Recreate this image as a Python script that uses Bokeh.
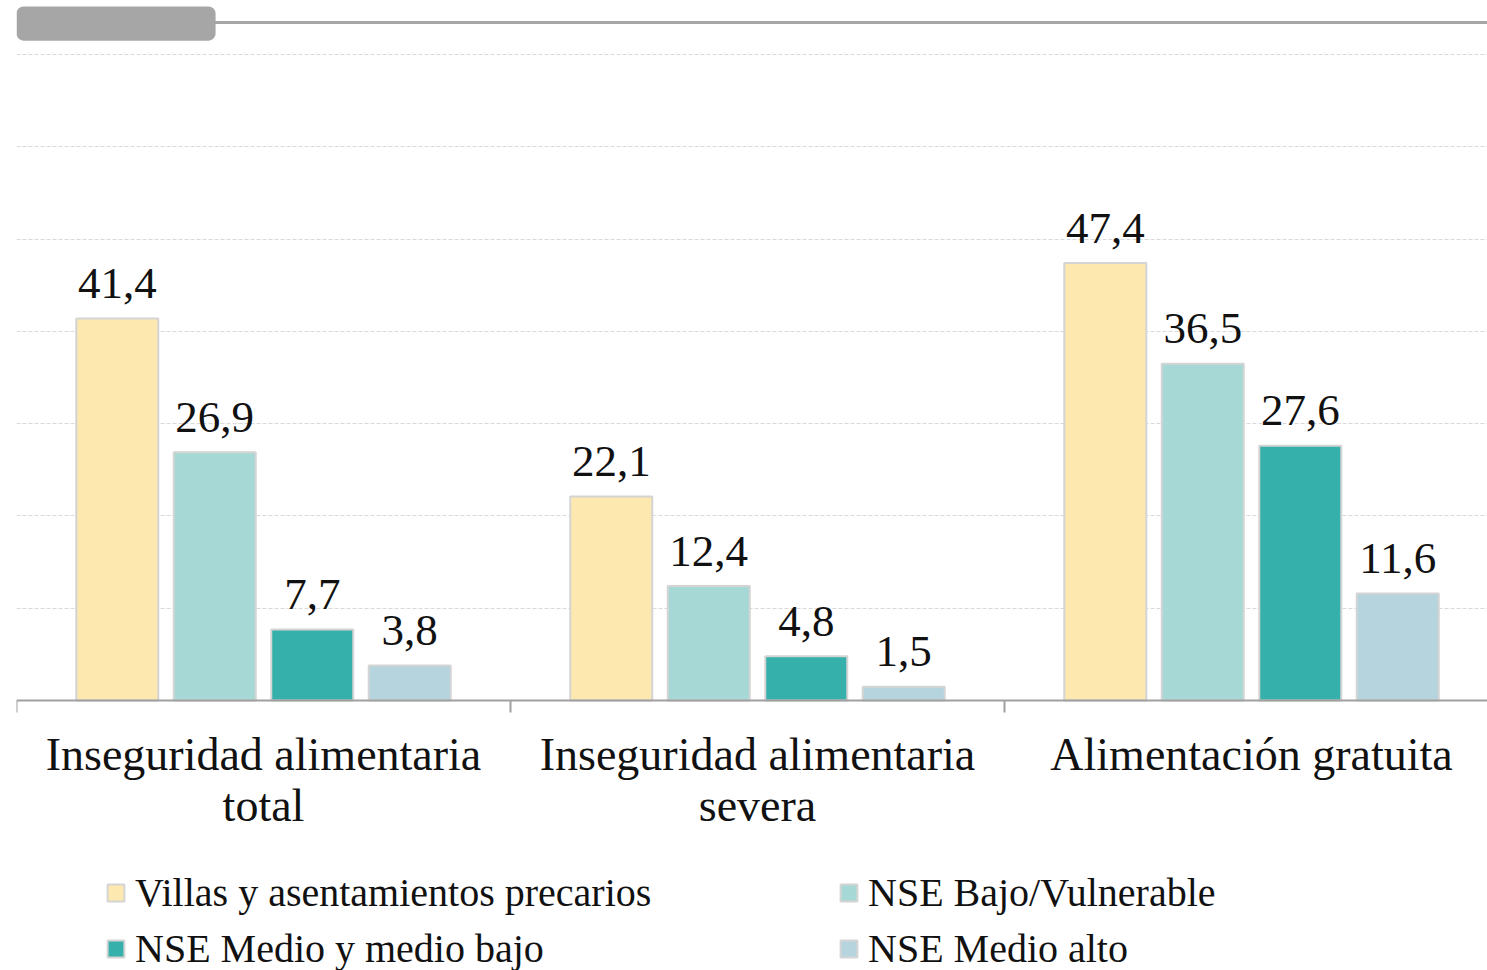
from bokeh.plotting import figure
from bokeh.models import (ColumnDataSource, Range1d, FixedTicker, Legend, LegendItem,
                          BoxAnnotation, LinearAxis)
from bokeh.core.properties import value
from bokeh.embed import file_html
from bokeh.resources import INLINE

categories = ["Inseguridad alimentaria\ntotal", "Inseguridad alimentaria\nsevera", "Alimentación gratuita"]
series = ["Villas y asentamientos precarios", "NSE Bajo/Vulnerable",
          "NSE Medio y medio bajo", "NSE Medio alto"]
villas = [41.4, 22.1, 47.4]
bajo = [26.9, 12.4, 36.5]
medio = [7.7, 4.8, 27.6]
medio_alto = [3.8, 1.5, 11.6]
values_by_series = [villas, bajo, medio, medio_alto]
y_ticks = [10, 20, 30, 40, 50, 60, 70]

colors = ["#FDE9B0", "#A6D9D6", "#36B0AB", "#B6D4DE"]
offsets = [-0.296, -0.0987, 0.0987, 0.296]
FONT = "Liberation Serif"
XEND = 2.9777
YEND = 75.85
YMIN = -29.26

W, H = 1487, 970
p = figure(width=W, height=H, output_backend="svg", toolbar_location=None,
           x_range=Range1d(0, XEND), y_range=Range1d(YMIN, YEND),
           min_border_left=16, min_border_right=0, min_border_top=0, min_border_bottom=0)
p.outline_line_color = None
p.yaxis.visible = False
p.xaxis.visible = False
p.xgrid.visible = False
p.ygrid.ticker = FixedTicker(ticks=y_ticks)
p.ygrid.grid_line_color = "#D9D9D9"
p.ygrid.grid_line_dash = "4 2"
p.ygrid.grid_line_width = 1

# header decoration
p.segment(x0=0.4, x1=XEND, y0=73.46, y1=73.46, line_color="#A6A6A6", line_width=3)
p.add_layout(BoxAnnotation(left=0, right=0.403, bottom=71.5, top=75.2, fill_color="#A6A6A6",
                           fill_alpha=1, line_color=None, border_radius=7))

renderers = []
for i, (name, vals) in enumerate(zip(series, values_by_series)):
    xs = [j + 0.5 + offsets[i] for j in range(len(categories))]
    src = ColumnDataSource(dict(x=xs, top=vals, lab=[f"{v:.1f}".replace(".", ",") for v in vals]))
    r = p.vbar(x="x", top="top", bottom=0, width=0.166, source=src,
               fill_color=colors[i], line_color="#D4D4D4", line_width=2)
    renderers.append(r)
    p.text(x="x", y="top", text="lab", source=src, text_align="center", text_baseline="alphabetic",
           y_offset=-35, text_font=value(FONT), text_font_size="45px", text_color="#111111")

ax = LinearAxis(ticker=FixedTicker(ticks=[0.5, 1.5, 2.5], minor_ticks=[0, 1, 2, 3]),
                fixed_location=0)
ax.major_label_overrides = {0.5: categories[0], 1.5: categories[1], 2.5: categories[2]}
ax.axis_line_color = "#A0A0A0"
ax.axis_line_width = 2
ax.major_tick_line_color = None
ax.major_tick_out = 0
ax.major_tick_in = 0
ax.minor_tick_line_color = "#A0A0A0"
ax.minor_tick_line_width = 2
ax.minor_tick_out = 12
ax.minor_tick_in = 0
ax.major_label_text_font = FONT
ax.major_label_text_font_size = "46px"
ax.major_label_text_color = "#111111"
ax.major_label_standoff = 17
ax.major_label_text_line_height = 1.0
p.add_layout(ax, "below")

leg_kw = dict(padding=0, margin=0, border_line_color=None, background_fill_alpha=0,
              label_text_font=FONT, label_text_font_size="40px", label_text_color="#111111",
              glyph_width=21, glyph_height=21, spacing=9, label_standoff=9,
              orientation="vertical")
leg1 = Legend(items=[LegendItem(label=series[0], renderers=[renderers[0]]),
                     LegendItem(label=series[2], renderers=[renderers[2]])],
              location=(89, -2), **leg_kw)
leg2 = Legend(items=[LegendItem(label=series[1], renderers=[renderers[1]]),
                     LegendItem(label=series[3], renderers=[renderers[3]])],
              location=(822, -2), **leg_kw)
p.add_layout(leg1, "center")
p.add_layout(leg2, "center")

open("out.html", "w").write(file_html(p, INLINE))
